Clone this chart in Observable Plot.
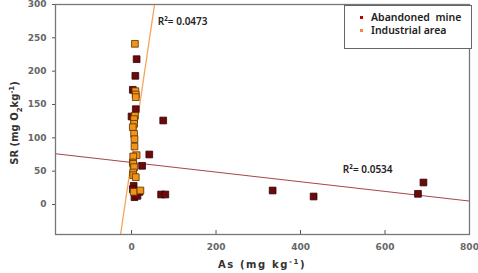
<!DOCTYPE html>
<html>
<head>
<meta charset="utf-8">
<script src="https://cdn.jsdelivr.net/npm/d3@7"></script>
<script src="https://cdn.jsdelivr.net/npm/@observablehq/plot@0.6"></script>
<style>
  html, body { margin: 0; padding: 0; background: #fff; }
  #wrap { position: relative; width: 478px; height: 273px; }
  .legend {
    position: absolute; left: 344px; top: 5px; width: 128px; height: 44px;
    box-sizing: border-box; border: 1px solid #666; background: #fff;
    font: 600 10.5px "Noto Sans", sans-serif; color: #222;
    padding: 5px 0 0 15px; line-height: 13px;
  }
  .legend .row { display: flex; align-items: center; white-space: pre; }
  .legend .sw { width: 3px; height: 3px; margin-right: 8px; }
</style>
</head>
<body>
<div id="wrap"></div>
<script>
// Abandoned mine samples: As (mg/kg) vs SR (mg O2/kg)
const mineAs = [12, 9, 3, 10, 0, 75, 42, 25, 5, 3, 19, 10, 7, 14, 70, 80, 334, 431, 678, 691];
const mineSR = [218, 193, 172, 143, 132, 126, 75, 58, 28, 23, 19, 16, 11, 13, 15, 15, 21, 12, 16, 33];

// Industrial area samples
const indAs = [8, 9, 10, 10, 8, 6, 6, 3, 6, 7, 7, 12, 4, 3, 4, 6, 4, 4, 10, 5, 21];
const indSR = [241, 170, 165, 161, 133, 128, 121, 116, 106, 98, 87, 74, 72, 63, 61, 56, 48, 44, 41, 19, 21];

// Linear fits [intercept, slope] and their R² labels
const mineFit = [63, -0.0724];
const indFit = [66.5, 4.29];
const r2Labels = ["R\u00b2= 0.0473", "R\u00b2= 0.0534"];
const r2As = [62, 500];
const r2SR = [274, 52];

const xTicks = [0, 200, 400, 600, 800];
const yTicks = [0, 50, 100, 150, 200, 250, 300];
const xDomain = [-180, 800];
const yDomain = [-45, 300];

const mine = mineAs.map((x, i) => ({x, y: mineSR[i]}));
const ind = indAs.map((x, i) => ({x, y: indSR[i]}));
const fitLine = ([a, b]) => xDomain.map(x => ({x, y: a + b * x}));
const r2 = r2Labels.map((t, i) => ({t, x: r2As[i], y: r2SR[i]}));

const tickFont = {fontFamily: "DejaVu Sans", fontWeight: "bold", fontSize: 9, fill: "#666"};

const chart = Plot.plot({
  width: 478,
  height: 273,
  marginTop: 4,
  marginLeft: 55,
  marginRight: 9,
  marginBottom: 39,
  x: {domain: xDomain},
  y: {domain: yDomain},
  style: {background: "#fff"},
  marks: [
    Plot.line(fitLine(mineFit), {x: "x", y: "y", stroke: "#a5474a", strokeWidth: 1.1, clip: true}),
    Plot.line(fitLine(indFit), {x: "x", y: "y", stroke: "#f7a45a", strokeWidth: 1.3, clip: true}),
    Plot.dot(mine, {x: "x", y: "y", symbol: "square", r: 3.8, fill: "#6b0a0c", stroke: "#3a0004", strokeWidth: 0.8}),
    Plot.dot(ind, {x: "x", y: "y", symbol: "square", r: 3.8, fill: "#f29418", stroke: "#5c3000", strokeWidth: 0.8}),
    Plot.text(r2, {x: "x", y: "y", text: "t", textAnchor: "start", fill: "#222",
      fontFamily: "Noto Sans", fontWeight: 600, fontSize: 10}),
    Plot.axisX({ticks: xTicks, tickSize: -4, tickPadding: 13, stroke: "#555", ...tickFont,
      label: null}),
    Plot.axisY({ticks: yTicks, tickSize: 3, tickPadding: 6, stroke: "#555", ...tickFont,
      label: null}),
    Plot.frame({stroke: "#777", strokeWidth: 1.3})
  ]
});

// Axis titles with sub/superscripts
const svg = d3.select(chart);
function title(parts, attrs) {
  const t = svg.append("text")
    .attr("text-anchor", "middle")
    .attr("font-family", "DejaVu Sans")
    .attr("font-weight", "bold")
    .attr("fill", "#333");
  Object.entries(attrs).forEach(([k, v]) => t.attr(k, v));
  parts.forEach(([s, kind]) => {
    const ts = t.append("tspan").text(s);
    if (kind === "sub") ts.attr("baseline-shift", "sub").attr("font-size", "7px");
    if (kind === "sup") ts.attr("baseline-shift", "super").attr("font-size", "7px");
  });
  return t;
}
title([["As (mg kg"], ["-1", "sup"], [")"]],
  {transform: "translate(262,268)", "font-size": "10px", "letter-spacing": "1.6px"});
title([["SR (mg O"], ["2", "sub"], ["kg"], ["-1", "sup"], [")"]],
  {transform: "translate(18,123) rotate(-90)", "font-size": "10px"});

const wrap = document.getElementById("wrap");
wrap.appendChild(chart);

const legend = document.createElement("div");
legend.className = "legend";
[["Abandoned  mine", "#c00000"], ["Industrial area", "#f08a3c"]].forEach(([label, color]) => {
  const row = document.createElement("div");
  row.className = "row";
  const sw = document.createElement("span");
  sw.className = "sw";
  sw.style.background = color;
  row.appendChild(sw);
  row.appendChild(document.createTextNode(label));
  legend.appendChild(row);
});
wrap.appendChild(legend);
</script>
</body>
</html>
